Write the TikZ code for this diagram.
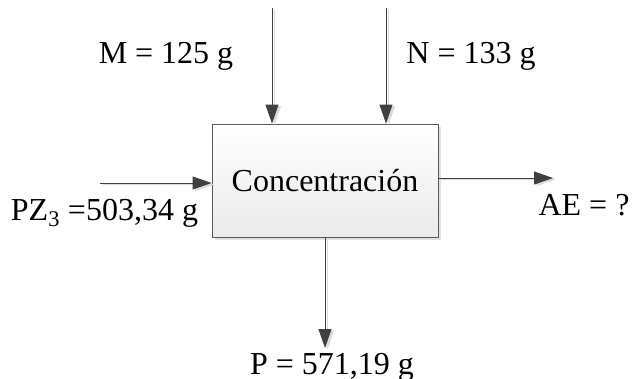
\documentclass[tikz,border=0pt]{standalone}
\usepackage{fontspec}
\setmainfont{Liberation Serif}
\usetikzlibrary{arrows.meta,shadows}
\definecolor{linecol}{HTML}{404040}
\definecolor{shadowcol}{HTML}{DCDCDC}
\definecolor{boxline}{HTML}{5A5A5A}
\begin{document}
\begin{tikzpicture}[x=1pt,y=-1pt,
  flow/.style={draw=linecol, line width=0.9pt,
    -{Triangle[length=19pt,width=13pt]},
    preaction={draw=shadowcol, line width=1.4pt, -{Triangle[length=19pt,width=13pt]},
      transform canvas={shift={(2.5pt,-1.5pt)}}}},
  lab/.style={font=\fontsize{32}{38}\selectfont, inner sep=0pt, anchor=base},
  proc/.style={draw=boxline, line width=0.9pt, top color=white, bottom color=black!8,
    minimum width=226pt, minimum height=113pt, inner sep=0pt,
    font=\fontsize{32}{38}\selectfont,
    drop shadow={shadow xshift=3pt, shadow yshift=-3pt, fill=black!12, opacity=1}}]
\useasboundingbox (0,0) rectangle (635,378);

\node[proc] (box) at (325,180.5) {Concentración};

\coordinate (mtop) at (272,8);
\coordinate (ntop) at (386,8);
\coordinate (lin) at (100,183);
\coordinate (rout) at (553,178);
\coordinate (pout) at (325,348);

\draw[flow] (mtop) -- (mtop |- box.north);
\draw[flow] (ntop) -- (ntop |- box.north);
\draw[flow] (lin) -- (lin -| box.west);
\draw[flow] (box.east |- rout) -- (rout);
\draw[flow] (box.south -| pout) -- (pout);

\node[lab] (mlab) at (166,63) {M = 125 g};
\node[lab] (nlab) at (471,63) {N = 133 g};
\node[lab] (pzlab) at (104.5,220) {PZ\textsubscript{3} =503,34 g};
\node[lab] (aelab) at (584,215) {AE = ?};
\node[lab] (plab) at (332,374) {P = 571,19 g};
\end{tikzpicture}
\end{document}
